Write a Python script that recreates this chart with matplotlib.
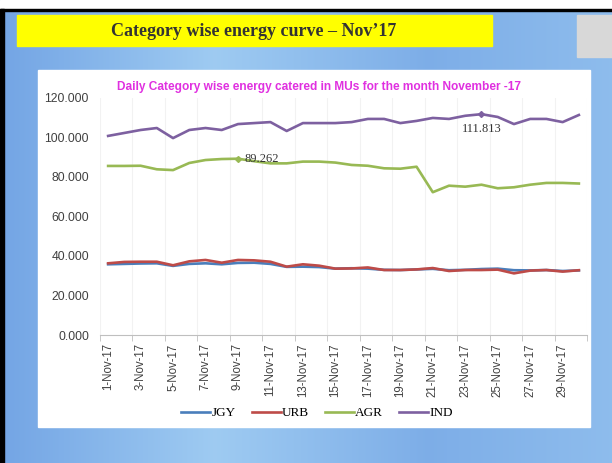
import numpy as np
import matplotlib.pyplot as plt
from matplotlib.patches import Rectangle

# Daily category wise energy (MUs), November 2017
days = list(range(1, 31))
day_labels = [f"{d}-Nov-17" for d in days]

jgy = [35.8, 36.0, 36.2, 36.3, 35.0, 36.0, 36.3, 35.8, 36.5, 36.6,
       36.0, 34.5, 34.6, 34.4, 33.6, 33.8, 33.6, 33.0, 32.9, 33.2,
       33.5, 32.8, 33.0, 33.4, 33.6, 32.8, 32.7, 32.9, 32.4, 32.7]
urb = [36.3, 37.0, 37.1, 37.1, 35.3, 37.3, 38.0, 36.6, 38.0, 37.8,
       37.1, 34.6, 35.8, 35.1, 33.6, 33.7, 34.2, 32.9, 32.9, 33.2,
       33.9, 32.4, 32.9, 32.9, 33.1, 31.2, 32.6, 32.9, 32.1, 32.8]
agr = [85.6, 85.6, 85.7, 83.9, 83.5, 87.1, 88.6, 89.1, 89.262, 88.0,
       86.9, 86.9, 87.8, 87.8, 87.3, 86.1, 85.7, 84.4, 84.2, 85.2,
       72.3, 75.6, 75.1, 76.1, 74.3, 74.8, 76.1, 77.0, 77.0, 76.7]
ind = [100.8, 102.3, 103.8, 104.8, 99.7, 103.8, 104.8, 103.8, 106.8, 107.3,
       107.8, 103.3, 107.3, 107.3, 107.3, 107.8, 109.4, 109.4, 107.3, 108.4,
       109.9, 109.4, 111.0, 111.813, 110.4, 106.8, 109.4, 109.4, 107.8, 111.4]

W, H = 612, 463
fig = plt.figure(figsize=(W / 100, H / 100), dpi=100)

# slide background: blue gradient
bg = fig.add_axes([0, 0, 1, 1])
grad = np.interp(np.linspace(0, 1, 256), [0, 0.35, 0.7, 1], [0.2, 0.85, 0.35, 0.6])
c1 = np.array([0.40, 0.60, 0.88])
c2 = np.array([0.66, 0.83, 0.96])
img = c1[None, :] + (c2 - c1)[None, :] * grad[:, None]
bg.imshow(img[None, :, :], aspect='auto', extent=[0, W, H, 0])
bg.set_xlim(0, W)
bg.set_ylim(H, 0)
bg.axis('off')
bg.add_patch(Rectangle((0, 0), W, 9, color='white'))
bg.add_patch(Rectangle((0, 9), W, 2, color='black'))
bg.add_patch(Rectangle((0, 9), 4, H, color='black'))
bg.add_patch(Rectangle((17, 15), 475, 31, color='#ffff00'))
bg.add_patch(Rectangle((577, 15), 35, 42, color='#d8d8d8'))
bg.add_patch(Rectangle((38, 70), 552, 357, color='white'))
bg.text(254, 31, "Category wise energy curve \u2013 Nov\u201917", ha='center', va='center',
        fontsize=13, fontweight='bold', family='Liberation Serif', color='#333333')

# chart
ax = fig.add_axes([100 / W, (H - 335) / H, 487 / W, 237 / H])
ax.set_facecolor('none')
ax.plot(days, jgy, color='#4a7ebb', lw=1.9, label='JGY')
ax.plot(days, urb, color='#be4b48', lw=1.9, label='URB')
ax.plot(days, agr, color='#98b954', lw=1.9, label='AGR')
ax.plot(days, ind, color='#7d60a0', lw=1.9, label='IND')

# data labels
ax.plot(days[8], agr[8], marker='D', ms=3, color='#98b954')
ax.annotate(f"{agr[8]:.3f}", (days[8], agr[8]), xytext=(5, 0), textcoords='offset points',
            va='center', ha='left', fontsize=9, family='Liberation Serif', color='#333333')
ax.plot(days[23], ind[23], marker='D', ms=3, color='#7d60a0')
ax.annotate(f"{ind[23]:.3f}", (days[23], ind[23]), xytext=(0, -6), textcoords='offset points',
            va='top', ha='center', fontsize=9, family='Liberation Serif', color='#333333')

ax.set_xlim(0.5, 30.5)
ax.set_ylim(0, 120)
ax.set_yticks(np.arange(0, 121, 20))
ax.set_yticklabels([f"{v:.3f}" for v in np.arange(0, 121, 20)],
                   fontsize=8.7, family='Liberation Sans', color='#404040')
ax.set_xticks(days[::2])
ax.set_xticklabels(day_labels[::2], rotation=90, fontsize=8.3, family='Liberation Sans', color='#404040')
ax.set_xticks(np.arange(0.5, 31, 2), minor=True)
ax.tick_params(axis='x', which='major', length=0, pad=6)
ax.tick_params(axis='x', which='minor', length=4, color='#bfbfbf')
ax.tick_params(axis='y', length=0, pad=8)
ax.grid(axis='x', which='minor', color='#f2f2f2', lw=0.8)
for s in ['top', 'right', 'left']:
    ax.spines[s].set_visible(False)
ax.spines['bottom'].set_color('#bfbfbf')

ax.text(0.45, 1.045, "Daily Category wise energy catered in MUs for the month November -17",
        transform=ax.transAxes, ha='center', va='center', fontsize=8.6, fontweight='bold',
        family='Liberation Sans', color='#e030e0')

ax.legend(loc='center', bbox_to_anchor=(217 / 487, (335 - 413) / 237), ncol=4, frameon=False,
          prop={'family': 'Liberation Serif', 'size': 9.5}, handlelength=2.2, handletextpad=0.1,
          columnspacing=1.2)

fig.savefig('out.png', dpi=100)
